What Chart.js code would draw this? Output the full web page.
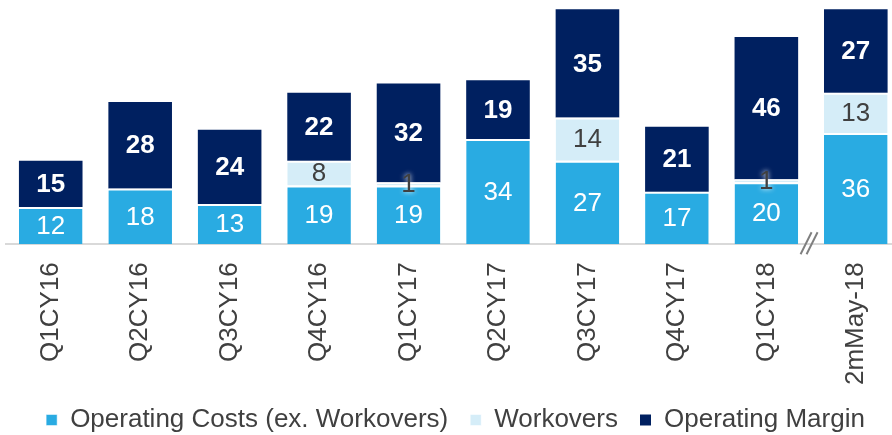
<!DOCTYPE html>
<html><head><meta charset="utf-8">
<script src="https://cdn.jsdelivr.net/npm/chart.js@4/dist/chart.umd.min.js"></script>
<style>
html,body{margin:0;padding:0;overflow:hidden;background:#fff;width:892px;height:435px}
#wrap{position:relative;width:905px;height:443px}
</style>
</head><body><div id="wrap"><canvas id="c"></canvas></div>
<script>
const categories = ["Q1CY16","Q2CY16","Q3CY16","Q4CY16","Q1CY17","Q2CY17","Q3CY17","Q4CY17","Q1CY18","2mMay-18"];
const operatingCosts = [12,18,13,19,19,34,27,17,20,36];
const workovers = [0,0,0,8,1,0,14,0,1,13];
const operatingMargin = [15,28,24,22,32,19,35,21,46,27];
const seriesNames = ["Operating Costs (ex. Workovers)","Workovers","Operating Margin"];

const FONT = "'Liberation Sans', Arial, sans-serif";
const TXT = '#404040';

const labelPlugin = {
  id: 'segLabels',
  afterDatasetsDraw(chart) {
    const ctx = chart.ctx;
    chart.data.datasets.forEach((ds, di) => {
      const meta = chart.getDatasetMeta(di);
      meta.data.forEach((el, i) => {
        const v = ds.data[i];
        if (!v) return;
        const cy = (el.y + el.base) / 2;
        ctx.save();
        ctx.textAlign = 'center';
        ctx.textBaseline = 'middle';
        let color = '#ffffff', weight = 'normal', glow = false;
        if (di === 1) { color = TXT; if (v < 3) glow = true; }
        if (di === 2) { weight = 'bold'; }
        ctx.font = weight + ' 26px ' + FONT;
        if (glow) { ctx.shadowColor = 'rgba(255,255,255,0.95)'; ctx.shadowBlur = 5; }
        ctx.fillStyle = color;
        ctx.fillText(String(v), el.x, cy + 1);
        ctx.restore();
      });
    });
  }
};

const breakPlugin = {
  id: 'axisBreak',
  afterDraw(chart) {
    const xs = chart.scales.x;
    const mid = (xs.getPixelForValue(8) + xs.getPixelForValue(9)) / 2 - 2;
    const yb = chart.chartArea.bottom;
    const ctx = chart.ctx;
    ctx.save();
    ctx.strokeStyle = '#7f7f7f';
    ctx.lineWidth = 2;
    [-3, 3].forEach(o => {
      ctx.beginPath();
      ctx.moveTo(mid + o - 5.5, yb + 10);
      ctx.lineTo(mid + o + 5.5, yb - 12);
      ctx.stroke();
    });
    ctx.restore();
  }
};

new Chart(document.getElementById('c'), {
  type: 'bar',
  data: {
    labels: categories,
    datasets: [
      { label: seriesNames[0], data: operatingCosts, backgroundColor: '#29ABE2', borderColor: '#ffffff', borderWidth: {top: 2, left: 0, right: 0, bottom: 0}, borderSkipped: 'start' },
      { label: seriesNames[1], data: workovers, backgroundColor: '#D5EDF8', borderColor: '#ffffff', borderWidth: {top: 2, left: 0, right: 0, bottom: 0}, borderSkipped: 'start' },
      { label: seriesNames[2], data: operatingMargin, backgroundColor: '#002060', borderWidth: 0 }
    ]
  },
  options: {
    responsive: true,
    maintainAspectRatio: false,
    animation: false,
    devicePixelRatio: 1,
    layout: { padding: { left: 6, right: 0, top: 0, bottom: 0 } },
    datasets: { bar: { categoryPercentage: 1, barPercentage: 0.711 } },
    scales: {
      x: {
        stacked: true,
        grid: { display: false, drawTicks: false },
        border: { display: true, color: '#d9d9d9', width: 2 },
        ticks: { color: TXT, font: { family: FONT, size: 26 }, minRotation: 90, maxRotation: 90, padding: 18, autoSkip: false },
        afterFit(scale) { scale.height -= 18; }
      },
      y: { stacked: true, display: false, min: 0, max: 79 }
    },
    plugins: {
      legend: {
        position: 'bottom',
        labels: { color: TXT, font: { family: FONT, size: 26 }, boxWidth: 11, boxHeight: 11, padding: 22 }
      },
      tooltip: { enabled: false }
    }
  },
  plugins: [labelPlugin, breakPlugin]
});
</script>
</body></html>
